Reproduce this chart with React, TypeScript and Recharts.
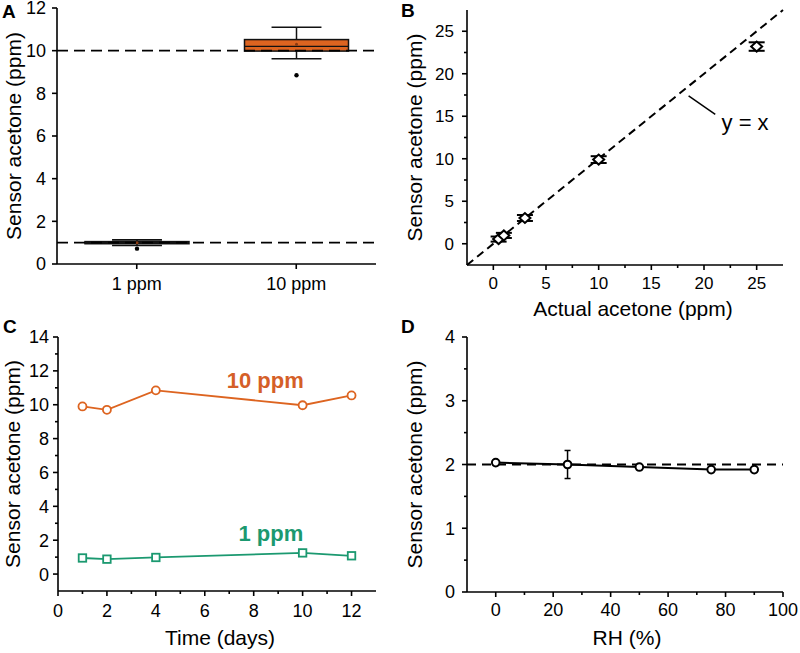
import React from 'react';
import {
  ComposedChart,
  Scatter,
  Bar,
  XAxis,
  YAxis,
  ReferenceLine,
  ReferenceDot,
  ErrorBar,
} from 'recharts';

const FONT = '"Liberation Sans", Arial, Helvetica, sans-serif';
const ORANGE = '#DD6420';
const ORANGE_TEXT = '#D55F28';
const GREEN = '#1B9970';
const AXIS_W = 1.6;

// ---------- Panel A: box plot ----------
const boxCategories = ['1 ppm', '10 ppm'];
const boxQ1 = [0.95, 9.98];
const boxQ3 = [1.05, 10.52];
const boxMedian = [1.0, 10.2];
const boxMean = [1.0, 10.3];
const boxWhiskerLow = [0.87, 9.62];
const boxWhiskerHigh = [1.13, 11.1];
const boxOutlier = [0.72, 8.85];
const aRefLevels = [1, 10];
const aYTicks = [0, 2, 4, 6, 8, 10, 12];

// ---------- Panel B: sensor vs actual ----------
const actualPpm = [0.5, 1, 3, 10, 25];
const sensorPpm = [0.55, 0.98, 3.03, 9.9, 23.2];
const sensorErr = [0.3, 0.3, 0.35, 0.4, 0.5];
const bMajor = [0, 5, 10, 15, 20, 25];
const bMinor = [2.5, 7.5, 12.5, 17.5, 22.5];
const bDomain = [-2.5, 27.5];
const bLeaderX = [18.54, 21.07];
const bLeaderY = [17.39, 15.23];
const bLabelPos = [23.9, 14.25];

// ---------- Panel C: stability over days ----------
const days = [1, 2, 4, 10, 12];
const tenPpmSeries = [9.9, 9.7, 10.85, 9.97, 10.55];
const onePpmSeries = [0.95, 0.88, 0.98, 1.25, 1.08];
const cXMajor = [0, 2, 4, 6, 8, 10, 12];
const cXMinor = [1, 3, 5, 7, 9, 11];
const cYMajor = [0, 2, 4, 6, 8, 10, 12, 14];
const cYMinor = [1, 3, 5, 7, 9, 11, 13];
const cTenLabelPos = [8.47, 11.42];
const cOneLabelPos = [8.7, 2.44];

// ---------- Panel D: humidity ----------
const rhPercent = [0, 25, 50, 75, 90];
const rhSensor = [2.03, 2.0, 1.96, 1.92, 1.92];
const rhErr = [0.04, 0.22, 0.03, 0.02, 0.03];
const dXMajor = [0, 20, 40, 60, 80, 100];
const dXMinor = [10, 30, 50, 70, 90];
const dYMajor = [0, 1, 2, 3, 4];
const dYMinor = [0.5, 1.5, 2.5, 3.5];

// ---------- built tables ----------
const boxData = boxCategories.map((name, i) => ({
  name,
  range: [boxWhiskerLow[i], boxWhiskerHigh[i]],
  q1: boxQ1[i],
  q3: boxQ3[i],
  median: boxMedian[i],
  mean: boxMean[i],
  lo: boxWhiskerLow[i],
  hi: boxWhiskerHigh[i],
  outlier: boxOutlier[i],
}));
const bData = actualPpm.map((x, i) => ({ x, y: sensorPpm[i], err: sensorErr[i] }));
const cTen = days.map((x, i) => ({ x, y: tenPpmSeries[i] }));
const cOne = days.map((x, i) => ({ x, y: onePpmSeries[i] }));
const dData = rhPercent.map((x, i) => ({ x, y: rhSensor[i], err: rhErr[i] }));

// ---------- tick renderers ----------
function bottomTick(majors: any[] | null, fontSize: number, gap: number, len = 5, minorLen = 3) {
  return (props: any) => {
    const { x, y, payload } = props;
    const v = payload.value;
    const isMajor = majors === null || majors.includes(v);
    return (
      <g>
        <line x1={x} x2={x} y1={y} y2={y + (isMajor ? len : minorLen)} stroke="#000" strokeWidth={AXIS_W} />
        {isMajor && (
          <text
            x={x}
            y={y + len + gap + fontSize * 0.716}
            textAnchor="middle"
            fontSize={fontSize}
            fontFamily={FONT}
            fill="#000"
          >
            {String(v)}
          </text>
        )}
      </g>
    );
  };
}

function leftTick(majors: number[] | null, fontSize: number, gap: number, len = 5, minorLen = 3) {
  return (props: any) => {
    const { x, y, payload } = props;
    const v = payload.value;
    const isMajor = majors === null || majors.includes(v);
    return (
      <g>
        <line x1={x - (isMajor ? len : minorLen)} x2={x} y1={y} y2={y} stroke="#000" strokeWidth={AXIS_W} />
        {isMajor && (
          <text
            x={x - len - gap}
            y={y + fontSize * 0.358}
            textAnchor="end"
            fontSize={fontSize}
            fontFamily={FONT}
            fill="#000"
          >
            {String(v)}
          </text>
        )}
      </g>
    );
  };
}

const axisLine = { stroke: '#000', strokeWidth: AXIS_W };

const yLabel = (offset: number) => ({
  value: 'Sensor acetone (ppm)',
  angle: -90,
  position: 'insideLeft' as const,
  offset,
  fontSize: 21,
  fill: '#000',
  style: { textAnchor: 'middle', fontSize: 21, fontFamily: FONT, fill: '#000' },
});

const xLabel = (value: string, offset: number, dx = 0) => ({
  value,
  position: 'insideBottom' as const,
  offset,
  dx,
  fontSize: 21,
  fill: '#000',
  style: { fontSize: 21, fontFamily: FONT, fill: '#000' },
});

// ---------- shapes ----------
const BoxShape = (props: any) => {
  const { x, y, width, height, payload } = props;
  const top = Math.min(y, y + height);
  const h = Math.abs(height);
  const k = h / (payload.hi - payload.lo);
  const py = (v: number) => top + (payload.hi - v) * k;
  const cx = x + width / 2;
  const capHalf = width * 0.24;
  const s = '#111';
  return (
    <g>
      <line x1={cx} x2={cx} y1={py(payload.hi)} y2={py(payload.q3)} stroke={s} strokeWidth={1.5} />
      <line x1={cx} x2={cx} y1={py(payload.q1)} y2={py(payload.lo)} stroke={s} strokeWidth={1.5} />
      <line x1={cx - capHalf} x2={cx + capHalf} y1={py(payload.hi)} y2={py(payload.hi)} stroke={s} strokeWidth={1.6} />
      <line x1={cx - capHalf} x2={cx + capHalf} y1={py(payload.lo)} y2={py(payload.lo)} stroke={s} strokeWidth={1.6} />
      <rect
        x={x}
        y={py(payload.q3)}
        width={width}
        height={py(payload.q1) - py(payload.q3)}
        fill={ORANGE}
        stroke={s}
        strokeWidth={1.5}
      />
      <line x1={x} x2={x + width} y1={py(payload.median)} y2={py(payload.median)} stroke={s} strokeWidth={1.2} />
      <circle cx={cx} cy={py(payload.mean)} r={1.5} fill="#8a3a10" />
      <circle cx={cx} cy={py(payload.outlier)} r={2.2} fill="#000" />
    </g>
  );
};

const DiamondShape = (props: any) => {
  const { cx, cy } = props;
  const w = 5.5;
  const h = 5;
  return (
    <path
      d={`M${cx - w},${cy} L${cx},${cy - h} L${cx + w},${cy} L${cx},${cy + h} Z`}
      fill="#fff"
      stroke="#000"
      strokeWidth={2}
    />
  );
};

const circleShape = (stroke: string, r: number, sw: number) => (props: any) => (
  <circle cx={props.cx} cy={props.cy} r={r} fill="#fff" stroke={stroke} strokeWidth={sw} />
);

const squareShape = (stroke: string, side: number, sw: number) => (props: any) => (
  <rect
    x={props.cx - side / 2}
    y={props.cy - side / 2}
    width={side}
    height={side}
    fill="#fff"
    stroke={stroke}
    strokeWidth={sw}
  />
);

// ---------- panels ----------
const PanelA = () => (
  <ComposedChart width={400} height={320} data={boxData} margin={{ top: 8, right: 24, bottom: 0, left: 0 }}>
    <XAxis
      dataKey="name"
      type="category"
      height={56}
      tickSize={0}
      tickMargin={0}
      tickLine={false}
      interval={0}
      axisLine={axisLine}
      tick={bottomTick(null, 18, 8, 5)}
    />
    <YAxis
      type="number"
      domain={[0, 12]}
      ticks={aYTicks}
      interval={0}
      width={57}
      tickSize={0}
      tickMargin={0}
      tickLine={false}
      axisLine={axisLine}
      tick={leftTick(null, 18, 6, 5)}
      allowDataOverflow
      label={yLabel(14)}
    />
    <XAxis xAxisId="frame" orientation="top" type="number" domain={[0, 1]} height={0} tick={false} tickLine={false} axisLine={axisLine} />
    <YAxis yAxisId="frame" orientation="right" type="number" domain={[0, 1]} width={0} tick={false} tickLine={false} axisLine={axisLine} />
    {aRefLevels.map((lv) => (
      <ReferenceLine key={lv} y={lv} stroke="#000" strokeWidth={1.8} strokeDasharray="11 6" />
    ))}
    <Bar dataKey="range" barSize={104} shape={BoxShape} isAnimationActive={false} />
  </ComposedChart>
);

const PanelB = () => (
  <ComposedChart width={400} height={326} margin={{ top: 10, right: 17, bottom: 0, left: 0 }}>
    <XAxis
      dataKey="x"
      type="number"
      domain={bDomain}
      ticks={[...bMajor, ...bMinor]}
      interval={0}
      height={61}
      tickSize={0}
      tickMargin={0}
      tickLine={false}
      axisLine={axisLine}
      tick={bottomTick(bMajor, 17, 7)}
      allowDataOverflow
      label={xLabel('Actual acetone (ppm)', 10, 8)}
    />
    <YAxis
      dataKey="y"
      type="number"
      domain={bDomain}
      ticks={[...bMajor, ...bMinor]}
      interval={0}
      width={67}
      tickSize={0}
      tickMargin={0}
      tickLine={false}
      axisLine={axisLine}
      tick={leftTick(bMajor, 17, 8)}
      allowDataOverflow
      label={yLabel(15)}
    />
    <XAxis xAxisId="frame" orientation="top" type="number" domain={[0, 1]} height={0} tick={false} tickLine={false} axisLine={axisLine} />
    <YAxis yAxisId="frame" orientation="right" type="number" domain={[0, 1]} width={0} tick={false} tickLine={false} axisLine={axisLine} />
    <ReferenceLine
      segment={[
        { x: bDomain[0], y: bDomain[0] },
        { x: bDomain[1], y: bDomain[1] },
      ]}
      stroke="#000"
      strokeWidth={2}
      strokeDasharray="8 5"
    />
    <ReferenceLine
      segment={[
        { x: bLeaderX[0], y: bLeaderY[0] },
        { x: bLeaderX[1], y: bLeaderY[1] },
      ]}
      stroke="#000"
      strokeWidth={1.5}
    />
    <ReferenceDot
      x={bLabelPos[0]}
      y={bLabelPos[1]}
      r={0}
      fill="none"
      stroke="none"
      label={{ value: 'y = x', position: 'center', fontSize: 22, fill: '#000', style: { fontFamily: FONT, fontSize: 22 } }}
    />
    <Scatter data={bData} dataKey="y" shape={DiamondShape} isAnimationActive={false}>
      <ErrorBar dataKey="err" direction="y" width={8} stroke="#000" strokeWidth={2} isAnimationActive={false} />
    </Scatter>
  </ComposedChart>
);

const PanelC = () => (
  <ComposedChart width={400} height={327} margin={{ top: 11, right: 24, bottom: 0, left: 0 }}>
    <XAxis
      dataKey="x"
      type="number"
      domain={[0, 13]}
      ticks={[...cXMajor, ...cXMinor]}
      interval={0}
      height={62}
      tickSize={0}
      tickMargin={0}
      tickLine={false}
      axisLine={axisLine}
      tick={bottomTick(cXMajor, 18, 8)}
      allowDataOverflow
      label={xLabel('Time (days)', 8, 3)}
    />
    <YAxis
      dataKey="y"
      type="number"
      domain={[-1, 14]}
      ticks={[...cYMajor, ...cYMinor]}
      interval={0}
      width={58}
      tickSize={0}
      tickMargin={0}
      tickLine={false}
      axisLine={axisLine}
      tick={leftTick(cYMajor, 18, 4)}
      allowDataOverflow
      label={yLabel(13)}
    />
    <XAxis xAxisId="frame" orientation="top" type="number" domain={[0, 1]} height={0} tick={false} tickLine={false} axisLine={axisLine} />
    <YAxis yAxisId="frame" orientation="right" type="number" domain={[0, 1]} width={0} tick={false} tickLine={false} axisLine={axisLine} />
    <ReferenceDot
      x={cTenLabelPos[0]}
      y={cTenLabelPos[1]}
      r={0}
      fill="none"
      stroke="none"
      label={{ value: '10 ppm', position: 'center', fontSize: 22, fill: ORANGE_TEXT, fontWeight: 'bold', style: { fontFamily: FONT, fontSize: 22, fontWeight: 'bold' } }}
    />
    <ReferenceDot
      x={cOneLabelPos[0]}
      y={cOneLabelPos[1]}
      r={0}
      fill="none"
      stroke="none"
      label={{ value: '1 ppm', position: 'center', fontSize: 22, fill: GREEN, fontWeight: 'bold', style: { fontFamily: FONT, fontSize: 22, fontWeight: 'bold' } }}
    />
    <Scatter
      data={cTen}
      dataKey="y"
      line={{ stroke: ORANGE, strokeWidth: 1.8 }}
      lineType="joint"
      shape={circleShape(ORANGE, 4, 1.8)}
      isAnimationActive={false}
    />
    <Scatter
      data={cOne}
      dataKey="y"
      line={{ stroke: GREEN, strokeWidth: 1.8 }}
      lineType="joint"
      shape={squareShape(GREEN, 7.5, 1.8)}
      isAnimationActive={false}
    />
  </ComposedChart>
);

const PanelD = () => (
  <ComposedChart width={400} height={327} margin={{ top: 11, right: 17, bottom: 0, left: 0 }}>
    <XAxis
      dataKey="x"
      type="number"
      domain={[-10, 100]}
      ticks={[...dXMajor, ...dXMinor]}
      interval={0}
      height={61}
      tickSize={0}
      tickMargin={0}
      tickLine={false}
      axisLine={axisLine}
      tick={bottomTick(dXMajor, 18, 6)}
      allowDataOverflow
      label={xLabel('RH (%)', 8, 2)}
    />
    <YAxis
      dataKey="y"
      type="number"
      domain={[0, 4]}
      ticks={[...dYMajor, ...dYMinor]}
      interval={0}
      width={67}
      tickSize={0}
      tickMargin={0}
      tickLine={false}
      axisLine={axisLine}
      tick={leftTick(dYMajor, 18, 7)}
      allowDataOverflow
      label={yLabel(15)}
    />
    <XAxis xAxisId="frame" orientation="top" type="number" domain={[0, 1]} height={0} tick={false} tickLine={false} axisLine={axisLine} />
    <YAxis yAxisId="frame" orientation="right" type="number" domain={[0, 1]} width={0} tick={false} tickLine={false} axisLine={axisLine} />
    <ReferenceLine y={2} stroke="#000" strokeWidth={1.8} strokeDasharray="9 6" />
    <Scatter
      data={dData}
      dataKey="y"
      line={{ stroke: '#000', strokeWidth: 2 }}
      lineType="joint"
      shape={circleShape('#000', 3.8, 2)}
      isAnimationActive={false}
    >
      <ErrorBar dataKey="err" direction="y" width={3} stroke="#000" strokeWidth={1.5} isAnimationActive={false} />
    </Scatter>
  </ComposedChart>
);

const panelLetters = [
  { t: 'A', x: 2, y: 18 },
  { t: 'B', x: 401, y: 17 },
  { t: 'C', x: 3, y: 333 },
  { t: 'D', x: 401, y: 333 },
];

export default function App() {
  return (
    <div style={{ position: 'absolute', left: 0, top: 0, width: 800, height: 653, background: '#fff', overflow: 'hidden' }}>
      <div style={{ position: 'absolute', left: 0, top: 0 }}>
        <PanelA />
      </div>
      <div style={{ position: 'absolute', left: 400, top: 0 }}>
        <PanelB />
      </div>
      <div style={{ position: 'absolute', left: 0, top: 326 }}>
        <PanelC />
      </div>
      <div style={{ position: 'absolute', left: 400, top: 326 }}>
        <PanelD />
      </div>
      <svg width={800} height={653} style={{ position: 'absolute', left: 0, top: 0, pointerEvents: 'none' }}>
        {panelLetters.map((p) => (
          <text key={p.t} x={p.x} y={p.y} fontSize={19} fontWeight="bold" fontFamily={FONT} fill="#000">
            {p.t}
          </text>
        ))}
      </svg>
    </div>
  );
}
